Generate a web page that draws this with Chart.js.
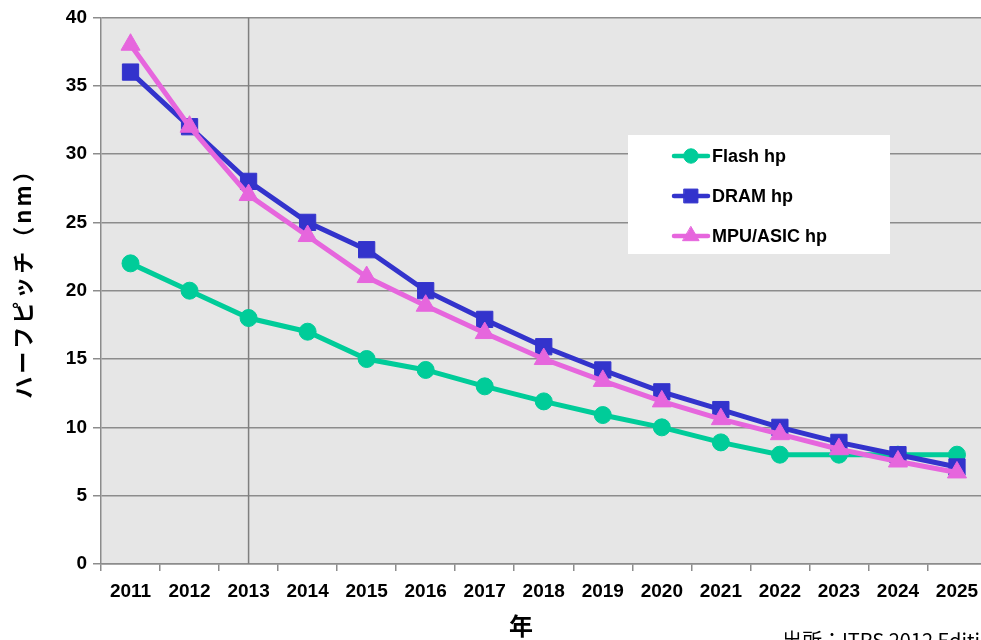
<!DOCTYPE html>
<html>
<head>
<meta charset="utf-8">
<script src="https://cdn.jsdelivr.net/npm/chart.js@4.4.0/dist/chart.umd.min.js"></script>
<style>
  html, body { margin: 0; padding: 0; background: #fff; overflow: hidden; }
  #wrap { position: relative; width: 999px; height: 640px; }
</style>
</head>
<body>
<div id="wrap"><canvas id="pitch-chart"></canvas></div>
<script>
// chart data
const years = ['2011', '2012', '2013', '2014', '2015', '2016', '2017', '2018',
               '2019', '2020', '2021', '2022', '2023', '2024', '2025'];
const flashHp = [22, 20, 18, 17, 15, 14.2, 13, 11.9, 10.9, 10, 8.9, 8, 8, 8, 8];
const dramHp = [36, 32, 28, 25, 23, 20, 17.9, 15.9, 14.2, 12.6, 11.3, 10, 8.9, 8, 7.1];
const mpuHp = [38, 32, 27, 24, 21, 18.9, 16.9, 15, 13.4, 11.9, 10.6, 9.5, 8.4, 7.5, 6.7];
const yTicks = [0, 5, 10, 15, 20, 25, 30, 35, 40];
const markerYear = '2013';

const yTitle = 'ハーフピッチ（nm）';
const xTitle = '年';
const sourceNote = '出所：ITRS 2012 Edition';

const FLASH = '#00CC99';
const DRAM = '#3333CC';
const MPU = '#E666DD';
const GRID = '#8C8C8C';

const tickFont = { family: '"Liberation Sans", Arial, sans-serif', size: 19, weight: 'bold' };

// grey plot background, vertical 2013 line, titles and legend box
const decorPlugin = {
    id: 'decor',
    beforeDraw(chart) {
        const { ctx, chartArea: a } = chart;
        ctx.save();
        ctx.fillStyle = '#E6E6E6';
        ctx.fillRect(a.left, a.top, a.right - a.left, a.bottom - a.top);
        ctx.restore();
    },
    beforeDatasetsDraw(chart) {
        const { ctx, chartArea: a } = chart;
        const x = chart.scales.x.getPixelForValue(years.indexOf(markerYear));
        ctx.save();
        ctx.strokeStyle = '#7F7F7F';
        ctx.lineWidth = 1.5;
        ctx.beginPath();
        ctx.moveTo(x, a.top);
        ctx.lineTo(x, a.bottom);
        ctx.stroke();
        ctx.restore();
    },
    afterDraw(chart) {
        const { ctx } = chart;
        ctx.save();
        // axis titles
        ctx.fillStyle = '#000';
        ctx.font = 'bold 22px "Noto Sans CJK JP", sans-serif';
        ctx.letterSpacing = '3px';
        ctx.textAlign = 'center';
        ctx.textBaseline = 'middle';
        ctx.translate(23, 278);
        ctx.rotate(-Math.PI / 2);
        ctx.fillText(yTitle, 0, 0);
        ctx.setTransform(1, 0, 0, 1, 0, 0);
        ctx.letterSpacing = '0px';
        ctx.font = 'bold 24px "Noto Sans CJK JP", sans-serif';
        ctx.fillText(xTitle, 521, 626);
        ctx.font = '20px "Noto Sans CJK JP", sans-serif';
        ctx.textAlign = 'left';
        ctx.fillText(sourceNote, 782, 640);

        // legend box
        ctx.fillStyle = '#fff';
        ctx.fillRect(628, 135, 262, 119);
        chart.data.datasets.forEach((ds, i) => {
            const y = 156 + i * 40;
            ctx.strokeStyle = ds.borderColor;
            ctx.fillStyle = ds.backgroundColor;
            ctx.lineWidth = 4.5;
            ctx.lineCap = 'round';
            ctx.beginPath();
            ctx.moveTo(674, y);
            ctx.lineTo(708, y);
            ctx.stroke();
            ctx.lineWidth = 1;
            Chart.helpers.drawPoint(ctx, {
                pointStyle: ds.pointStyle,
                radius: ds.pointRadius * 0.85,
                borderWidth: 1
            }, 691, y);
            ctx.fillStyle = '#000';
            ctx.font = 'bold 18px "Liberation Sans", Arial, sans-serif';
            ctx.textAlign = 'left';
            ctx.textBaseline = 'middle';
            ctx.fillText(ds.label, 712, y + 1);
        });
        ctx.restore();
    }
};

function makeSeries(label, data, color, style, radius, order) {
    return {
        label: label,
        data: data,
        borderColor: color,
        backgroundColor: color,
        pointBackgroundColor: color,
        pointBorderColor: color,
        pointBorderWidth: 1,
        pointStyle: style,
        pointRadius: radius,
        borderWidth: 5,
        tension: 0,
        order: order
    };
}

const ctx = document.getElementById('pitch-chart').getContext('2d');
const pitchChart = new Chart(ctx, {
    type: 'line',
    data: {
        labels: years,
        datasets: [
            makeSeries('Flash hp', flashHp, FLASH, 'circle', 8.5, 3),
            makeSeries('DRAM hp', dramHp, DRAM, 'rect', 11.5, 2),
            makeSeries('MPU/ASIC hp', mpuHp, MPU, 'triangle', 11, 1)
        ]
    },
    plugins: [decorPlugin],
    options: {
        responsive: true,
        maintainAspectRatio: false,
        animation: false,
        layout: { padding: { top: 16, right: 0, bottom: 0, left: 0 } },
        plugins: {
            legend: { display: false },
            tooltip: { enabled: false }
        },
        scales: {
            x: {
                offset: true,
                grid: {
                    offset: true,
                    drawOnChartArea: false,
                    drawTicks: true,
                    tickLength: 7,
                    color: GRID,
                    lineWidth: 1.5
                },
                border: { color: GRID, width: 1.5 },
                ticks: { color: '#000', font: tickFont, padding: 9, maxRotation: 0, autoSkip: false },
                afterFit(scale) { scale.height = 76; }
            },
            y: {
                min: 0,
                max: 40,
                afterBuildTicks(scale) { scale.ticks = yTicks.map(v => ({ value: v })); },
                grid: { color: GRID, lineWidth: 1.5, tickLength: 8 },
                border: { color: GRID, width: 1.5 },
                ticks: { color: '#000', font: tickFont, padding: 6 },
                afterFit(scale) { scale.width = 101; }
            }
        }
    }
});
</script>
</body>
</html>
